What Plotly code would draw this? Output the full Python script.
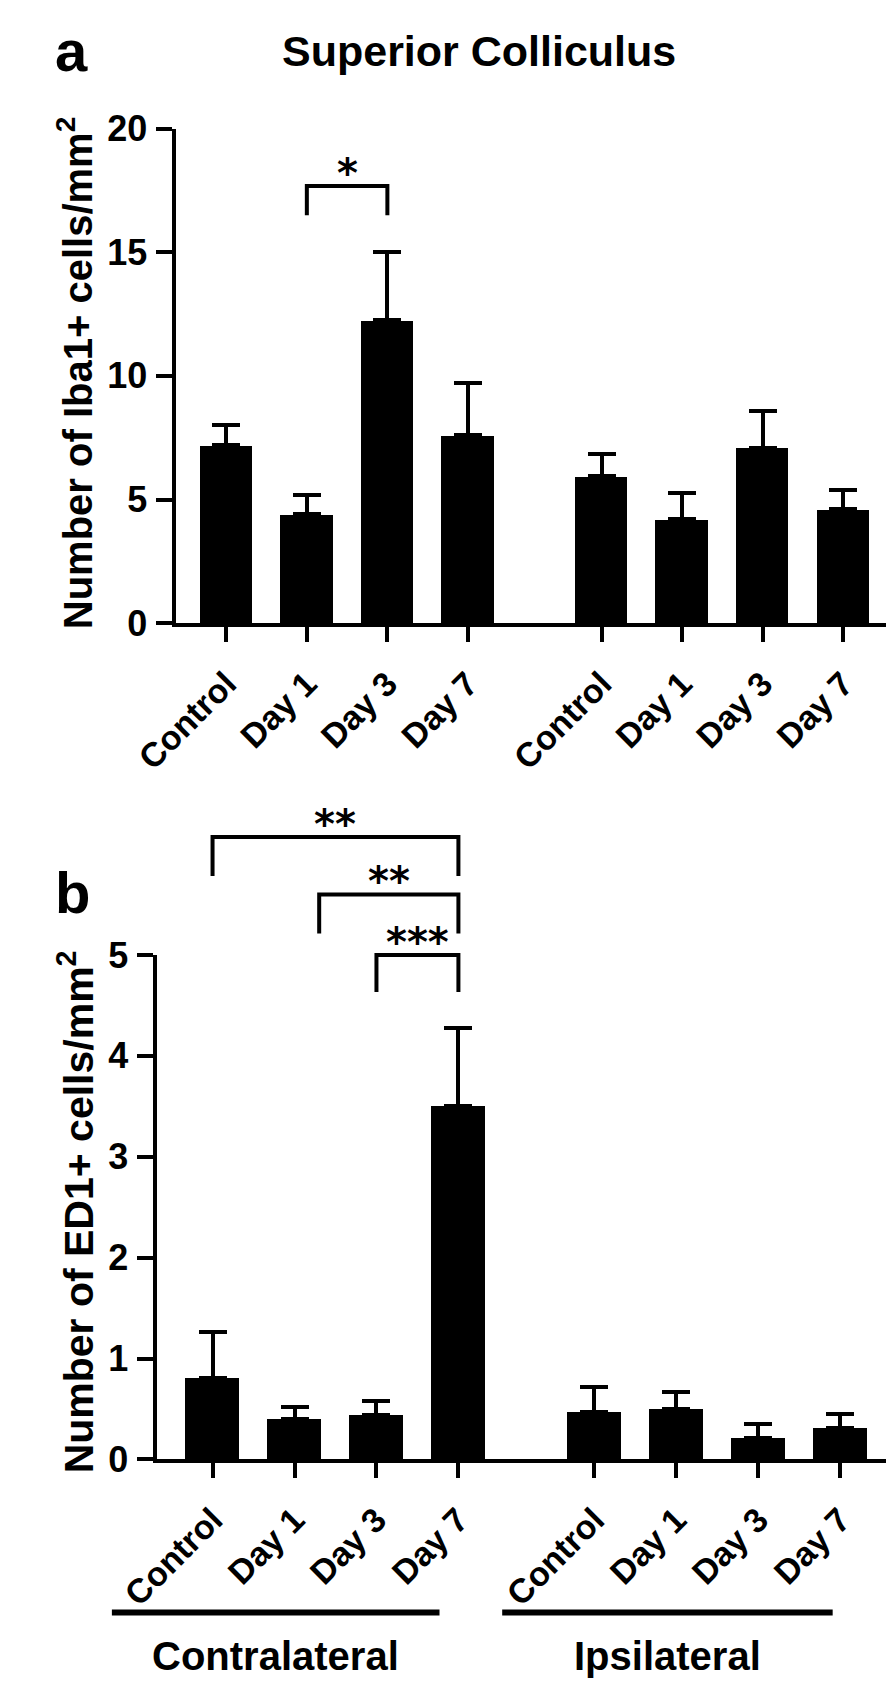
import plotly.graph_objects as go

# ---------------- data ----------------
categories = ["Control", "Day 1", "Day 3", "Day 7"]
sides = ["Contralateral", "Ipsilateral"]

iba1_mean = [7.2, 4.4, 12.25, 7.6, 5.95, 4.2, 7.1, 4.6]
iba1_sem = [0.8, 0.8, 2.77, 2.1, 0.9, 1.06, 1.47, 0.8]
ed1_mean = [0.81, 0.40, 0.44, 3.50, 0.47, 0.50, 0.21, 0.31]
ed1_sem = [0.45, 0.12, 0.14, 0.78, 0.25, 0.17, 0.14, 0.14]

iba1_ticks = [0, 5, 10, 15, 20]
ed1_ticks = [0, 1, 2, 3, 4, 5]

# significance: (left bar index, right bar index, stars)
iba1_sig = [(1, 2, "*")]
ed1_sig = [(0, 3, "**"), (1, 3, "**"), (2, 3, "***")]

title = "Superior Colliculus"
iba1_ylabel = "Number of Iba1+ cells/mm<sup>2</sup>"
ed1_ylabel = "Number of ED1+ cells/mm<sup>2</sup>"

# ---------------- layout (pixels) ----------------
W, H = 894, 1690
FONT = "Liberation Sans, Arial, Helvetica, sans-serif"
STAR_FONT = "DejaVu Sans, Liberation Sans, sans-serif"
PA = dict(left=130, right=888, top=103, bottom=610, first=182.5, step=84.8, ymax=20)
PB = dict(left=110, right=885, top=950, bottom=1467, first=168, step=86.3, ymax=5)
GAP = 1.66
BAR_W = 0.65
LW = 4

positions = [i for i in range(4)] + [i + 3 + GAP for i in range(4)]
labels = categories * 2


def xr(P):
    return [(P["left"] - P["first"]) / P["step"], (P["right"] - P["first"]) / P["step"]]


def px_x(P, xd):
    return P["first"] + xd * P["step"]


def fx(px):
    return px / W


def fy(py):
    return 1 - py / H


fig = go.Figure()
for mean, sem, xa, ya in [(iba1_mean, iba1_sem, "x", "y"), (ed1_mean, ed1_sem, "x2", "y2")]:
    fig.add_trace(go.Bar(
        x=positions, y=mean, width=BAR_W, xaxis=xa, yaxis=ya,
        marker=dict(color="black", line=dict(color="black", width=0)),
        error_y=dict(type="data", symmetric=False, array=sem, arrayminus=[0] * len(sem),
                     color="black", thickness=LW, width=14),
        showlegend=False, hoverinfo="skip",
    ))


def xaxis_cfg(P):
    return dict(
        domain=[fx(P["left"]), fx(P["right"])], range=xr(P),
        tickmode="array", tickvals=positions, ticktext=labels, tickangle=-45,
        ticks="outside", ticklen=15, tickwidth=LW, tickcolor="black",
        showline=True, linewidth=LW, linecolor="black",
        showgrid=False, zeroline=False, fixedrange=True,
        tickfont=dict(family=FONT, size=34, color="black", weight="bold"),
        ticklabelstandoff=8,
    )


def yaxis_cfg(P, ticks):
    return dict(
        domain=[fy(P["bottom"]), fy(P["top"])], range=[0, P["ymax"]],
        tickmode="array", tickvals=ticks,
        ticks="outside", ticklen=16, tickwidth=LW, tickcolor="black",
        showline=True, linewidth=LW, linecolor="black",
        showgrid=False, zeroline=False, fixedrange=True,
        tickfont=dict(family=FONT, size=36, color="black", weight="bold"),
        ticklabelstandoff=2,
    )


shapes = []
annotations = []


def add_sig(P, sig, levels, star_size=40):
    for (i0, i1, txt), (yh, ydrop) in zip(sig, levels):
        x0 = px_x(P, positions[i0]) + (26 if (i0 == 1 and P is PB) else 0)
        x1 = px_x(P, positions[i1])
        shapes.append(dict(
            type="path", xref="paper", yref="paper",
            path=f"M {fx(x0)} {fy(ydrop)} L {fx(x0)} {fy(yh)} L {fx(x1)} {fy(yh)} L {fx(x1)} {fy(ydrop)}",
            line=dict(color="black", width=LW),
        ))
        annotations.append(dict(
            x=fx((x0 + x1) / 2), y=fy(yh + 12), xref="paper", yref="paper",
            text=txt, showarrow=False, xanchor="center", yanchor="bottom",
            font=dict(family=STAR_FONT, size=star_size, color="black", weight="bold"),
        ))


add_sig(PA, iba1_sig, [(162, 192)])
add_sig(PB, ed1_sig, [(829, 869), (888, 928), (950, 988)])

# panel letters and title
annotations.append(dict(x=0, y=fy(23), xref="paper", yref="paper", text="<b>a</b>", showarrow=False,
                        xanchor="left", yanchor="middle", font=dict(family=FONT, size=58, color="black")))
annotations.append(dict(x=0, y=fy(886), xref="paper", yref="paper", text="<b>b</b>", showarrow=False,
                        xanchor="left", yanchor="middle", font=dict(family=FONT, size=58, color="black")))
annotations.append(dict(x=fx(449), y=fy(24), xref="paper", yref="paper", text=f"<b>{title}</b>", showarrow=False,
                        xanchor="center", yanchor="middle", font=dict(family=FONT, size=43, color="black")))

# y-axis titles
annotations.append(dict(x=fx(24), y=fy(354), xref="paper", yref="paper",
                        text=f"<b>{iba1_ylabel}</b>", showarrow=False, textangle=-90,
                        xanchor="center", yanchor="middle", font=dict(family=FONT, size=40, color="black")))
annotations.append(dict(x=fx(24), y=fy(1213), xref="paper", yref="paper",
                        text=f"<b>{ed1_ylabel}</b>", showarrow=False, textangle=-90,
                        xanchor="center", yanchor="middle", font=dict(family=FONT, size=41, color="black")))

# group lines and labels under panel b
for (gx0, gx1), name in zip([(62, 407), (473, 821)], sides):
    shapes.append(dict(type="line", xref="paper", yref="paper", x0=fx(gx0), x1=fx(gx1),
                       y0=fy(1624), y1=fy(1624), line=dict(color="black", width=6)))
    annotations.append(dict(x=fx((gx0 + gx1) / 2), y=fy(1668), xref="paper", yref="paper",
                            text=f"<b>{name}</b>", showarrow=False, xanchor="center", yanchor="middle",
                            font=dict(family=FONT, size=40, color="black")))

fig.update_layout(
    width=W, height=H, margin=dict(l=0, r=0, t=0, b=0),
    paper_bgcolor="white", plot_bgcolor="white",
    xaxis=dict(anchor="y", **xaxis_cfg(PA)),
    yaxis=dict(anchor="x", **yaxis_cfg(PA, iba1_ticks)),
    xaxis2=dict(anchor="y2", **xaxis_cfg(PB)),
    yaxis2=dict(anchor="x2", **yaxis_cfg(PB, ed1_ticks)),
    shapes=shapes, annotations=annotations, bargap=0,
    font=dict(family=FONT, color="black"),
)

fig.write_html("out.html")
